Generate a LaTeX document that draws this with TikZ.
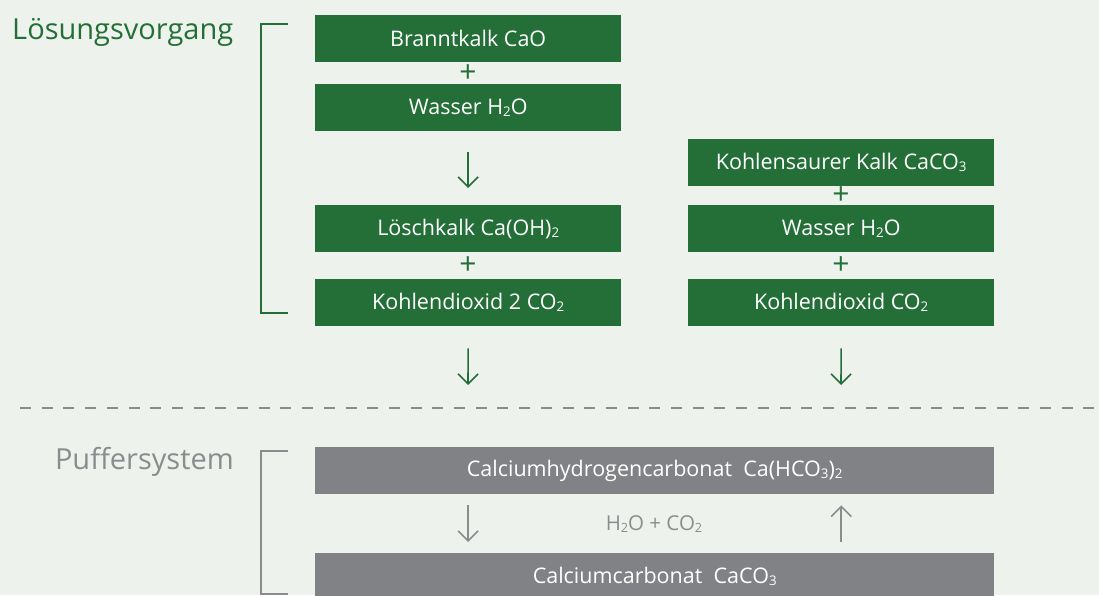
\documentclass[tikz,border=0pt]{standalone}
\usepackage{fontspec}
\setmainfont{Open Sans}
\usetikzlibrary{arrows.meta}
\definecolor{grn}{HTML}{236F37}
\definecolor{bg}{HTML}{EEF2ED}
\definecolor{gbox}{HTML}{818285}
\definecolor{gtxt}{HTML}{8B8C8E}
\newcommand{\chsub}[1]{\raisebox{-0.09em}{\scalebox{0.62}{#1}}}
\begin{document}
\begin{tikzpicture}[x=1pt,y=-1pt,
  greenbox/.style={rectangle,fill=grn,text=white,minimum width=306pt,minimum height=47pt,inner sep=0pt,anchor=north west,font=\fontsize{21.5}{24}\selectfont},
  graybox/.style={rectangle,fill=gbox,text=white,minimum width=679pt,minimum height=47pt,inner sep=0pt,anchor=north west,font=\fontsize{21.5}{24}\selectfont},
  plus/.style={text=grn,inner sep=0pt,font=\fontsize{30}{32}\selectfont},
  garrow/.style={draw=grn,line width=1.6pt,-{Straight Barb[length=10pt,width=20pt,line width=1.6pt]}},
  aarrow/.style={draw=gtxt,line width=1.6pt,-{Straight Barb[length=10pt,width=20pt,line width=1.6pt]}},
  bracket/.style={line width=2pt},
]
\fill[bg] (0,0) rectangle (1099,595);
\useasboundingbox (0,0) rectangle (1099,595);

% labels
\node[anchor=base west,inner sep=0pt,text=grn,font=\fontsize{29}{34}\selectfont] (lv) at (12,39) {Lösungsvorgang};
\node[anchor=base east,inner sep=0pt,text=gtxt,font=\fontsize{29}{34}\selectfont] (ps) at (234,469) {Puffersystem};

% brackets
\draw[bracket,grn] (288,24) -- (261,24) -- (261,313) -- (288,313);
\draw[bracket,gtxt] (288,451) -- (261,451) -- (261,594) -- (288,594);

% left column
\node[greenbox] (b1) at (315,15) {Branntkalk CaO};
\node[greenbox] (b2) at (315,84) {Wasser H\chsub{2}O};
\node[greenbox] (b3) at (315,205) {Löschkalk Ca(OH)\chsub{2}};
\node[greenbox] (b4) at (315,279) {Kohlendioxid 2 CO\chsub{2}};
\node[plus] (p1) at (468,74) {+};
\node[plus] (p2) at (468,266) {+};

% right column
\node[greenbox] (r1) at (688,139) {Kohlensaurer Kalk CaCO\chsub{3}};
\node[greenbox] (r2) at (688,205) {Wasser H\chsub{2}O};
\node[greenbox] (r3) at (688,279) {Kohlendioxid CO\chsub{2}};
\node[plus] (p3) at (841,196) {+};
\node[plus] (p4) at (841,266) {+};

% arrows
\draw[garrow,shorten <=21pt,shorten >=17pt] (b2.south) -- (b3.north);
\coordinate (e1) at (468,385);
\coordinate (e2) at (841,385);
\draw[garrow,shorten <=22pt] (b4.south) -- (e1);
\draw[garrow,shorten <=22pt] (r3.south) -- (e2);

% dashed separator
\coordinate (d1) at (20,408);
\coordinate (d2) at (1099,408);
\draw[gtxt,line width=2pt,dash pattern=on 11pt off 10.7pt] (d1) -- (d2);

% buffer system
\node[graybox] (g1) at (315,447) {Calciumhydrogencarbonat\ \ Ca(HCO\chsub{3})\chsub{2}};
\node[graybox] (g2) at (315,553) {Calciumcarbonat\ \ CaCO\chsub{3}};
\draw[aarrow,shorten <=11pt,shorten >=11pt] (b3.south |- g1.south) -- (b3.south |- g2.north);
\draw[aarrow,shorten <=11pt,shorten >=11pt] (r3.south |- g2.north) -- (r3.south |- g1.south);
\node[text=gtxt,inner sep=0pt,font=\fontsize{20.5}{24}\selectfont] (hc) at (654,524) {H\chsub{2}O + CO\chsub{2}};
\end{tikzpicture}
\end{document}
